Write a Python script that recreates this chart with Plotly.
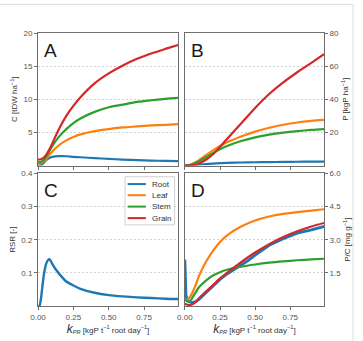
import plotly.graph_objects as go

# ---------------- data ----------------
NAMES = ["Root", "Leaf", "Stem", "Grain"]
COLORS = ["#1f77b4", "#ff7f0e", "#2ca02c", "#d62728"]

X = [0, 0.02, 0.04, 0.06, 0.08, 0.10, 0.15, 0.20, 0.25, 0.30, 0.40, 0.50, 0.60, 0.70, 0.80, 0.90, 0.99]

# Panel A: C [tDW ha-1]
A_ROOT = [0.0, 0.05, 0.4, 0.85, 1.15, 1.3, 1.42, 1.4, 1.32, 1.25, 1.12, 1.0, 0.9, 0.82, 0.75, 0.7, 0.66]
A_LEAF = [0.3, 0.35, 0.6, 1.0, 1.6, 2.1, 3.1, 3.8, 4.3, 4.7, 5.2, 5.5, 5.75, 5.9, 6.05, 6.15, 6.25]
A_STEM = [0.5, 0.55, 0.8, 1.4, 2.2, 2.9, 4.4, 5.5, 6.4, 7.1, 8.1, 8.8, 9.2, 9.6, 9.85, 10.05, 10.2]
A_GRAIN = [0.9, 0.95, 1.2, 1.7, 2.4, 3.3, 5.6, 7.5, 9.0, 10.3, 12.4, 13.9, 15.1, 16.1, 16.9, 17.6, 18.2]

# Panel B: P [kgP ha-1]
B_ROOT = [0, 0.05, 0.15, 0.3, 0.45, 0.6, 0.9, 1.2, 1.4, 1.6, 1.85, 2.0, 2.1, 2.2, 2.3, 2.35, 2.4]
B_LEAF = [0, 0.1, 0.5, 1.2, 2.2, 3.3, 6.3, 9.2, 11.8, 14.0, 17.5, 20.5, 22.8, 24.6, 26.0, 27.0, 27.6]
B_STEM = [0, 0.1, 0.4, 1.0, 1.8, 2.6, 5.0, 7.5, 9.8, 11.8, 14.8, 17.0, 18.7, 19.9, 20.8, 21.5, 22.0]
B_GRAIN = [0, 0.02, 0.05, 0.2, 0.5, 1.2, 3.5, 6.8, 11.2, 16.0, 25.4, 34.8, 43.2, 50.2, 56.3, 62.0, 67.2]

# Panel C: RSR [-]
X_C = [0, 0.01, 0.02, 0.03, 0.04, 0.05, 0.06, 0.07, 0.08, 0.09, 0.10, 0.12, 0.15, 0.20,
       0.25, 0.30, 0.40, 0.50, 0.60, 0.70, 0.80, 0.90, 0.99]
C_ROOT = [0.0, 0.0, 0.02, 0.055, 0.09, 0.115, 0.13, 0.138, 0.141, 0.136, 0.128, 0.114, 0.097,
          0.074, 0.062, 0.052, 0.040, 0.033, 0.029, 0.026, 0.024, 0.022, 0.021]

# Panel D: P/C [mg g-1]
X_D_ROOT = [0, 0.004, 0.008, 0.015, 0.03, 0.05, 0.08, 0.10, 0.15, 0.20, 0.25, 0.30, 0.35,
            0.40, 0.45, 0.50, 0.60, 0.70, 0.80, 0.90, 0.99]
D_ROOT = [2.1, 1.0, 0.5, 0.3, 0.2, 0.15, 0.2, 0.3, 0.6, 0.9, 1.2, 1.45, 1.65, 1.85, 2.05,
          2.3, 2.75, 3.05, 3.3, 3.45, 3.6]
D_LEAF = [0.25, 0.3, 0.45, 0.7, 1.0, 1.35, 2.0, 2.5, 2.9, 3.2, 3.6, 3.87, 4.05, 4.17, 4.25, 4.32, 4.38]
D_STEM = [0.3, 0.2, 0.25, 0.45, 0.65, 0.85, 1.15, 1.38, 1.53, 1.64, 1.78, 1.88, 1.96, 2.02, 2.07, 2.11, 2.14]
D_GRAIN = [0.1, 0.05, 0.05, 0.1, 0.2, 0.35, 0.65, 0.95, 1.25, 1.5, 1.98, 2.42, 2.8, 3.12, 3.38, 3.6, 3.76]

X_TICKS = [0, 0.25, 0.5, 0.75]
A_TICKS = [5, 10, 15, 20]
B_TICKS = [20, 40, 60, 80]
C_TICKS = [0.1, 0.2, 0.3, 0.4]
D_TICKS = [1.5, 3.0, 4.5, 6.0]
LETTERS = ["A", "B", "C", "D"]

# ---------------- figure ----------------
fig = go.Figure()

def add(xs, ys, color, xa, ya, width=2.2, shape="spline"):
    fig.add_trace(go.Scatter(x=xs, y=ys, mode="lines", xaxis=xa, yaxis=ya,
                             line=dict(color=color, width=width, shape=shape, smoothing=0.8),
                             showlegend=False, hoverinfo="skip"))

for ys, c in zip([A_ROOT, A_LEAF, A_STEM, A_GRAIN], COLORS):
    add(X, ys, c, "x", "y")
for ys, c in zip([B_ROOT, B_LEAF, B_STEM, B_GRAIN], COLORS):
    add(X, ys, c, "x2", "y2")
add(X_C, C_ROOT, COLORS[0], "x3", "y3", width=2.4)
add(X_D_ROOT, D_ROOT, COLORS[0], "x4", "y4", width=2.8, shape="linear")
for ys, c in zip([D_LEAF, D_STEM, D_GRAIN], COLORS[1:]):
    add(X, ys, c, "x4", "y4")

FONT = "Liberation Sans, Arial, sans-serif"
LINE_C = "#6e6e6e"
TICK_FONT = dict(family=FONT, size=8, color="#555555")
TITLE_FONT = dict(family=FONT, size=8, color="#333333")

xl = [0, 0.4899]
xr = [0.5135, 1]
yt = [0.5145, 1]
yb = [0, 0.4855]

def xax(dom, anchor, labels):
    d = dict(domain=dom, anchor=anchor, range=[0, 0.99], tickvals=X_TICKS,
             tickformat=".2f", showticklabels=labels, ticks="outside", ticklen=3,
             tickcolor=LINE_C, showline=True, linecolor=LINE_C, linewidth=1, mirror=True,
             showgrid=False, zeroline=False, tickfont=TICK_FONT)
    if labels:
        d["title"] = dict(text="<span style='font-size:12px'><i>k</i></span><sub><i>PR</i></sub>"
                               " [kgP t<sup>\u22121</sup> root day<sup>\u22121</sup>]",
                          font=TITLE_FONT, standoff=2)
    return d

def yax(dom, anchor, rng, ticks, fmt, title, side):
    return dict(domain=dom, anchor=anchor, range=rng, tickvals=ticks, tickformat=fmt,
                side=side, ticks="outside", ticklen=3, tickcolor=LINE_C,
                showline=True, linecolor=LINE_C, linewidth=1, mirror=True,
                showgrid=True, gridcolor="#d2d2d2", gridwidth=0.8, griddash="2px,2px",
                zeroline=False, tickfont=TICK_FONT,
                title=dict(text=title, font=TITLE_FONT, standoff=4))

fig.update_layout(
    width=363, height=341,
    margin=dict(l=33, r=34, t=33, b=32),
    paper_bgcolor="white", plot_bgcolor="white",
    showlegend=False,
    xaxis=xax(xl, "y", False),
    yaxis=yax(yt, "x", [0, 20], A_TICKS, "d", "C [tDW ha<sup>\u22121</sup>]", "left"),
    xaxis2=xax(xr, "y2", False),
    yaxis2=yax(yt, "x2", [0, 80], B_TICKS, "d", "P [kgP ha<sup>\u22121</sup>]", "right"),
    xaxis3=xax(xl, "y3", True),
    yaxis3=yax(yb, "x3", [0, 0.4], C_TICKS, ".1f", "RSR [-]", "left"),
    xaxis4=xax(xr, "y4", True),
    yaxis4=yax(yb, "x4", [0, 6], D_TICKS, ".1f", "P/C [mg g<sup>\u22121</sup>]", "right"),
)

# panel letters
axes_ids = ["", "2", "3", "4"]
for L, a in zip(LETTERS, axes_ids):
    fig.add_annotation(text=L, xref=f"x{a} domain", yref=f"y{a} domain", x=0.03, y=0.87,
                       xanchor="left", yanchor="middle", showarrow=False,
                       font=dict(family=FONT, size=19, color="#1a1a1a"))

# legend inside panel C (drawn manually to match compact matplotlib legend)
fig.add_shape(type="rect", xref="x3 domain", yref="y3 domain", x0=0.621, x1=0.975,
              y0=0.612, y1=0.975, line=dict(color="#d0d0d0", width=1),
              fillcolor="rgba(255,255,255,0.85)", layer="above")
rows = [0.920, 0.836, 0.750, 0.663]
for name, c, ry in zip(NAMES, COLORS, rows):
    fig.add_shape(type="line", xref="x3 domain", yref="y3 domain", x0=0.64, x1=0.77,
                  y0=ry, y1=ry, line=dict(color=c, width=2), layer="above")
    fig.add_annotation(text=name, xref="x3 domain", yref="y3 domain", x=0.80, y=ry,
                       xanchor="left", yanchor="middle", showarrow=False,
                       font=dict(family=FONT, size=8, color="#333333"))

# outer light frame of the figure image
fig.add_shape(type="rect", xref="paper", yref="paper", x0=-0.2, x1=1.1014, y0=-0.2, y1=1.105,
              line=dict(color="#dddddd", width=1), layer="below")

fig.write_html("out.html")
